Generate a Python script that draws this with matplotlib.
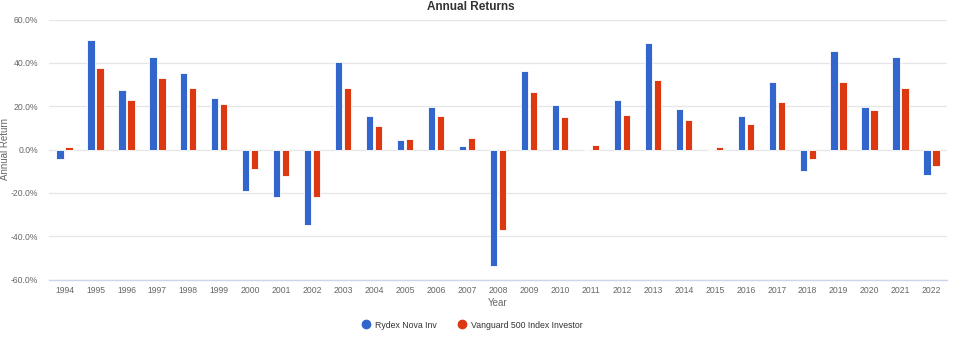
import numpy as np
import matplotlib.pyplot as plt
from matplotlib.lines import Line2D
from matplotlib.ticker import FuncFormatter

plt.rcParams['font.family'] = ['Liberation Sans', 'DejaVu Sans']

years = list(range(1994, 2023))
rydex = [-4.3, 50.4, 27.3, 42.5, 35.3, 24.0, -19.0, -21.8, -34.7, 40.4,
         15.4, 4.5, 19.7, 1.8, -53.8, 36.3, 20.6, 0.0, 23.0, 49.0,
         18.8, 0.0, 15.5, 31.3, -9.7, 45.5, 19.7, 42.9, -11.8]
vanguard = [1.2, 37.5, 22.9, 33.2, 28.6, 21.1, -9.1, -12.0, -22.1, 28.5,
            10.7, 4.8, 15.6, 5.4, -37.0, 26.5, 14.9, 2.0, 15.8, 32.2,
            13.5, 1.3, 11.8, 21.7, -4.5, 31.3, 18.3, 28.6, -7.7]

BLUE = '#3366cc'
RED = '#dc3912'
TEXT = '#666666'

fig = plt.figure(figsize=(9.64, 3.5), dpi=100)
ax = fig.add_axes([49 / 964, 1 - 279.5 / 350, (947 - 49) / 964, (279.5 - 19.5) / 350])

x = np.arange(len(years))
w = 0.235
ax.bar(x - 0.145, rydex, w, color=BLUE, edgecolor='#ffffff', linewidth=0.6, zorder=3, label='Rydex Nova Inv')
ax.bar(x + 0.145, vanguard, w, color=RED, edgecolor='#ffffff', linewidth=0.6, zorder=3, label='Vanguard 500 Index Investor')

ax.set_xlim(-0.5, len(years) - 0.5)
ax.set_ylim(-60, 60)
ax.set_yticks(range(-60, 61, 20))
ax.yaxis.set_major_formatter(FuncFormatter(lambda v, p: '{:.1f}%'.format(v)))
ax.set_xticks(x)
ax.set_xticklabels([str(y) for y in years])

ax.grid(axis='y', color='#e6e6e6', linewidth=0.9, zorder=0)
for s in ['top', 'right', 'left']:
    ax.spines[s].set_visible(False)
ax.spines['bottom'].set_color('#ccd6eb')
ax.spines['bottom'].set_linewidth(1)
ax.tick_params(axis='both', length=0, labelsize=6.2, colors=TEXT)
ax.tick_params(axis='x', pad=5)
ax.tick_params(axis='y', pad=8)

ax.set_xlabel('Year', fontsize=7, color=TEXT, labelpad=2)
ax.set_ylabel('Annual Return', fontsize=7, color=TEXT)
ax.yaxis.label.set_va('center')
ax.yaxis.set_label_coords(-44 / 898, 0.5)

# title sits right at the top edge, like the reference
fig.text(471 / 964, 1 - 0.5 / 350, 'Annual Returns', ha='center', va='top',
         fontsize=8.5, fontweight='bold', color='#333333')

handles = [Line2D([], [], marker='o', linestyle='', markersize=6, color=BLUE),
           Line2D([], [], marker='o', linestyle='', markersize=6, color=RED)]
fig.legend(handles, ['Rydex Nova Inv', 'Vanguard 500 Index Investor'], ncol=2,
           loc='center', bbox_to_anchor=(472 / 964, 1 - 325 / 350), frameon=False,
           fontsize=6.3, labelcolor='#333333', handletextpad=0.5, columnspacing=2.4,
           handlelength=1.0)

fig.savefig('out.png', dpi=100)
